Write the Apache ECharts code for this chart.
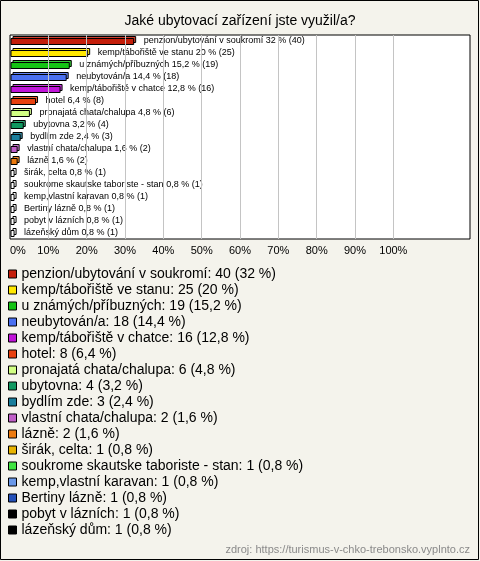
<!DOCTYPE html>
<html><head><meta charset="utf-8">
<script src="https://cdn.jsdelivr.net/npm/echarts@6/dist/echarts.min.js"></script>
<style>html,body{margin:0;padding:0;background:#f4f3ec}#c{width:480px;height:561px}</style>
</head><body><div id="c"></div>
<script>
const categories = ["penzion/ubytování v soukromí","kemp/tábořiště ve stanu","u známých/příbuzných","neubytován/a","kemp/tábořiště v chatce","hotel","pronajatá chata/chalupa","ubytovna","bydlím zde","vlastní chata/chalupa","lázně","širák, celta","soukrome skautske taboriste - stan","kemp,vlastní karavan","Bertiny lázně","pobyt v lázních","lázeňský dům"];
const counts = [40,25,19,18,16,8,6,4,3,2,2,1,1,1,1,1,1];
const percents = [32,20,15.2,14.4,12.8,6.4,4.8,3.2,2.4,1.6,1.6,0.8,0.8,0.8,0.8,0.8,0.8];
const colors = ["#c41e0a","#ffe800","#14c414","#4a70f0","#c014d8","#e8400e","#d2ff84","#109860","#1a7e9c","#c060c8","#ec7a0e","#e8b400","#40e440","#6a98e8","#2450b8","#000000","#000000"];
const xTicks = [0,10,20,30,40,50,60,70,80,90,100];

const fmt = v => String(v).replace('.', ',');
const chart = echarts.init(document.getElementById('c'), null, {renderer:'canvas'});

function renderItem(params, api) {
  const v = api.value(0), c = api.value(1);
  const p0 = api.coord([0, c]);
  const p1 = api.coord([v, c]);
  const h = 6, d = 2;
  const x0 = p0[0] + 1;
  const y = Math.round(p0[1] - h / 2) + 0.5;
  const w = Math.max(p1[0] - p0[0], 2);
  const col = colors[params.seriesIndex];
  const small = v < 1;
  const dark = echarts.color.lift(col, 0.15);
  return {
    type: 'group',
    children: [
      {type:'rect', shape:{x:x0 + d, y:y - d, width:w, height:h}, style:{fill: small ? '#fff' : dark, stroke:'#000', lineWidth:1}},
      {type:'rect', shape:{x:x0, y:y, width:w, height:h}, style:{fill: small ? '#fff' : col, stroke:'#000', lineWidth:1}},
      {type:'text', style:{text: categories[c] + ' ' + fmt(percents[c]) + ' % (' + counts[c] + ')', x: x0 + w + 10, y: y + h/2 - 1, verticalAlign:'middle', align:'left', font:'9px "Liberation Sans", Arial, sans-serif', fill:'#000'}}
    ]
  };
}

const series = categories.map((name, i) => {
  const s = {
    type: 'custom',
    name: name,
    renderItem: renderItem,
    itemStyle: {color: colors[i]},
    data: [[percents[i], i]],
    encode: {x: 0, y: 1},
    silent: true,
    z: 3
  };
  if (i === 0) {
    s.markLine = {
      silent: true, symbol: 'none', label: {show:false},
      lineStyle: {color:'#c4c4c4', width:1, type:'solid'},
      data: xTicks.filter(t => t > 0).map(t => ({xAxis: t}))
    };
  }
  return s;
});

chart.setOption({
  backgroundColor: '#f4f3ec',
  animation: false,
  title: {
    text: 'Jaké ubytovací zařízení jste využil/a?',
    left: 'center', top: 9,
    textStyle: {fontSize: 14, fontWeight: 'normal', color: '#000', fontFamily: '"Liberation Sans", Arial, sans-serif'}
  },
  graphic: [
    {type:'rect', shape:{x:0.5, y:0.5, width:478, height:559}, style:{fill:'none', stroke:'#000', lineWidth:1}, z:-1, silent:true},
    {type:'text', right: 10, top: 544, style:{text:'zdroj: https://turismus-v-chko-trebonsko.vyplnto.cz', font:'11px "Liberation Sans", Arial, sans-serif', fill:'#8a8a8a'}}
  ],
  grid: {left: 10, right: 10, top: 35, height: 204, show: true, backgroundColor: '#fff', borderColor: '#000', borderWidth: 1, containLabel: false},
  xAxis: {
    type: 'value', min: 0, max: 120, interval: 10,
    axisLine: {show:false}, axisTick: {show:false}, splitLine: {show:false},
    axisLabel: {
      color:'#000', fontSize: 11, margin: 6, alignMinLabel: 'left',
      fontFamily: '"Liberation Sans", Arial, sans-serif',
      formatter: v => (xTicks.indexOf(v) >= 0 ? v + '%' : '')
    }
  },
  yAxis: {
    type: 'category', data: categories, inverse: true,
    axisLine: {show:false}, axisTick: {show:false}, axisLabel: {show:false}, splitLine: {show:false}
  },
  legend: {
    orient: 'vertical', left: 3, top: 261,
    itemWidth: 8, itemHeight: 8, itemGap: 0,
    icon: 'rect', selectedMode: false,
    itemStyle: {borderColor: '#000', borderWidth: 1},
    textStyle: {fontSize: 14, lineHeight: 16, color: '#000', fontFamily: '"Liberation Sans", Arial, sans-serif'},
    formatter: name => {
      const i = categories.indexOf(name);
      return name + ': ' + counts[i] + ' (' + fmt(percents[i]) + ' %)';
    },
    data: categories
  },
  series: series
});
</script>
</body></html>
